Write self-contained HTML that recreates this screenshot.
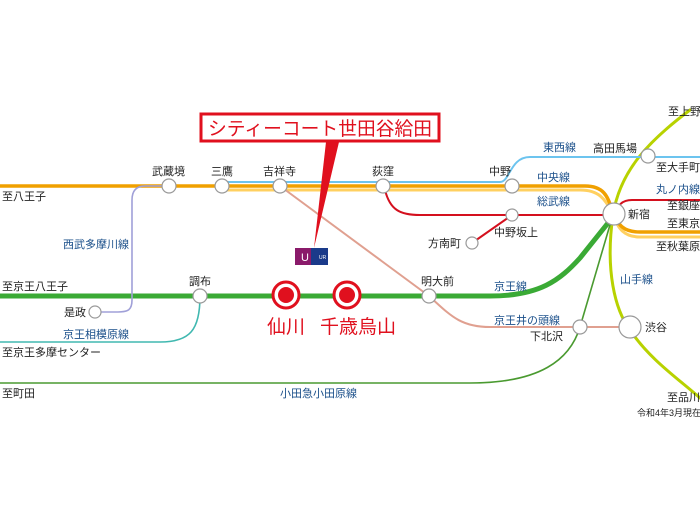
<!DOCTYPE html>
<html><head><meta charset="utf-8"><style>
html,body{margin:0;padding:0;background:#fff}
svg{display:block}
text{font-family:"Liberation Sans","Noto Sans CJK JP",sans-serif;font-size:11px;fill:#222}
.b{fill:#1a4f8a}
</style></head><body>
<svg width="700" height="525" viewBox="0 0 700 525" xmlns="http://www.w3.org/2000/svg">
<g fill="none" stroke-linecap="round">
<path d="M690,110 C650,140 620,170 613,215 C605,270 615,310 630,330 C650,360 680,380 700,398" stroke="#b8d200" stroke-width="3"/>
<path d="M222,182 L500,182 C510,182 510,157 530,157 L700,157" stroke="#6cc4ef" stroke-width="2"/>
<path d="M222,190 L580,190 C600,190 605,200 612,212 C618,230 625,237 640,237 L700,237" stroke="#ffd060" stroke-width="3"/>
<path d="M0,186 L585,186 C605,186 608,198 612,210 C618,226 624,232 640,232 L700,232" stroke="#f0a000" stroke-width="3.5"/>
<path d="M385,190 C390,210 400,215 420,215 L612,215" stroke="#d4101e" stroke-width="2"/>
<path d="M614,215 C618,205 622,200 632,200 L700,200" stroke="#d4101e" stroke-width="2"/>
<path d="M472,243 L512,215" stroke="#d4101e" stroke-width="2"/>
<path d="M280,186 L429,296 C450,315 460,327 490,327 L630,327" stroke="#e0a090" stroke-width="2"/>
<path d="M0,296 L490,296 C540,296 560,280 580,258 L612,218" stroke="#3aaa35" stroke-width="5"/>
<path d="M0,383 L470,383 C540,383 570,360 580,327 L612,218" stroke="#4a9a30" stroke-width="1.6"/>
<path d="M169,186 L145,186 C135,186 132,192 132,200 L132,300 C132,310 128,312 118,312 L95,312" stroke="#a0a0d8" stroke-width="1.6"/>
<path d="M200,296 C200,330 190,342 160,342 L0,342" stroke="#40b8b0" stroke-width="1.6"/>
</g>
<g fill="#fff" stroke="#999" stroke-width="1.2">
<circle cx="169" cy="186" r="7"/><circle cx="222" cy="186" r="7"/><circle cx="280" cy="186" r="7"/>
<circle cx="383" cy="186" r="7"/><circle cx="512" cy="186" r="7"/><circle cx="648" cy="156" r="7"/>
<circle cx="614" cy="214" r="11"/><circle cx="512" cy="215" r="6"/><circle cx="472" cy="243" r="6"/>
<circle cx="200" cy="296" r="7"/><circle cx="429" cy="296" r="7"/><circle cx="95" cy="312" r="6"/>
<circle cx="580" cy="327" r="7"/><circle cx="630" cy="327" r="11"/>
</g>
<g><circle cx="286" cy="295" r="13" fill="#fff" stroke="#e0101e" stroke-width="3"/><circle cx="286" cy="295" r="8" fill="#e0101e"/>
<circle cx="347" cy="295" r="13" fill="#fff" stroke="#e0101e" stroke-width="3"/><circle cx="347" cy="295" r="8" fill="#e0101e"/></g>
<polygon points="326,142 339,142 314,248" fill="#e0101e"/>
<rect x="201" y="114" width="238" height="27" fill="#fff" stroke="#e0101e" stroke-width="3"/>
<text x="208" y="135" textLength="224" lengthAdjust="spacingAndGlyphs" style="font-size:19px;fill:#e0101e">シティーコート世田谷給田</text>
<rect x="295" y="248" width="16" height="17" fill="#8a1a6a"/><rect x="311" y="248" width="17" height="17" fill="#1a3a8a"/>
<text x="319" y="259" style="font-size:5px;fill:#fff">UR</text>
<text x="301" y="261" style="font-size:11px;fill:#fff">U</text>
<text x="286" y="333" text-anchor="middle" style="font-size:19px;fill:#e0101e">仙川</text>
<text x="358" y="333" text-anchor="middle" style="font-size:19px;fill:#e0101e">千歳烏山</text>
<text x="152" y="175">武蔵境</text><text x="211" y="175">三鷹</text><text x="263" y="175">吉祥寺</text>
<text x="372" y="175">荻窪</text><text x="489" y="175">中野</text><text x="593" y="152">高田馬場</text>
<text x="628" y="218">新宿</text><text x="494" y="236">中野坂上</text><text x="428" y="247">方南町</text>
<text x="189" y="285">調布</text><text x="421" y="285">明大前</text><text x="64" y="316">是政</text>
<text x="530" y="340">下北沢</text><text x="645" y="331">渋谷</text>
<text x="2" y="200">至八王子</text><text x="2" y="290">至京王八王子</text><text x="2" y="356">至京王多摩センター</text>
<text x="2" y="397">至町田</text>
<text x="668" y="115">至上野</text><text x="656" y="171">至大手町</text><text x="667" y="209">至銀座</text>
<text x="667" y="227">至東京</text><text x="656" y="250">至秋葉原</text><text x="667" y="401">至品川</text>
<text x="637" y="416" style="font-size:9px">令和4年3月現在</text>
<text class="b" x="63" y="248">西武多摩川線</text><text class="b" x="63" y="338">京王相模原線</text>
<text class="b" x="280" y="397">小田急小田原線</text><text class="b" x="543" y="151">東西線</text>
<text class="b" x="537" y="181">中央線</text><text class="b" x="537" y="205">総武線</text>
<text class="b" x="656" y="193">丸ノ内線</text><text class="b" x="620" y="283">山手線</text>
<text class="b" x="494" y="290">京王線</text><text class="b" x="494" y="324">京王井の頭線</text>
</svg>
</body></html>
